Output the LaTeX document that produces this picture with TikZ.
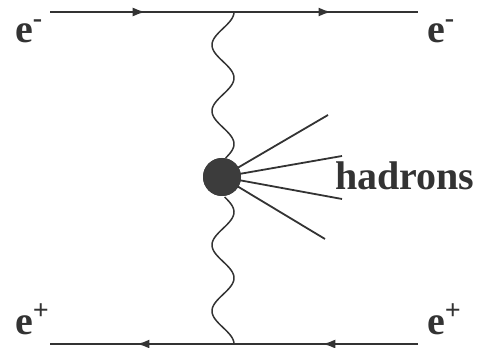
\documentclass[tikz,border=0pt]{standalone}
\usepackage{fontspec}
\setmainfont{Liberation Serif}
\usetikzlibrary{decorations.markings,arrows.meta}
\definecolor{linegray}{HTML}{333333}
\definecolor{blobgray}{HTML}{3C3C3C}
\newcommand{\supr}[1]{\raisebox{6pt}{\textsuperscript{#1}}}
\begin{document}
\begin{tikzpicture}[x=1pt,y=1pt,
  fermion/.style={line width=2.2pt, draw=linegray, postaction=decorate,
    decoration={markings,
      mark=at position 0.26 with {\arrow{Latex[length=13pt,width=9pt]}},
      mark=at position 0.765 with {\arrow{Latex[length=13pt,width=9pt]}}}},
  photon/.style={line width=1.5pt, draw=linegray},
  hadron/.style={line width=1.8pt, draw=linegray},
  blobstyle/.style={circle, fill=blobgray, minimum size=38pt, inner sep=0pt},
  lab/.style={inner sep=0pt, text=linegray, font=\fontsize{40}{48}\selectfont\bfseries}
]
\useasboundingbox (0,0) rectangle (483,348);
% endpoints
\coordinate (tl) at (50,336);
\coordinate (tr) at (418,336);
\coordinate (bl) at (50,4);
\coordinate (br) at (418,4);
\coordinate (vtop) at (234,336);
\coordinate (vbot) at (234,4);
\coordinate (h1) at (328,233);
\coordinate (h2) at (342,192);
\coordinate (h3) at (342,149);
\coordinate (h4) at (325,109);
\node[blobstyle] (blob) at (222,171) {};
% fermion lines
\draw[fermion] (tl) -- (tr);
\draw[fermion] (br) -- (bl);
% photons
\draw[photon] (vtop) -- plot[domain=0:146, samples=120, smooth] ({223+11*cos(5.4545*\x)}, {336-\x});
\draw[photon] plot[domain=147:0, samples=120, smooth] ({223+11*cos(5.4545*\x)}, {4+\x}) -- (vbot);
% hadrons
\draw[hadron] (blob.center) -- (h1);
\draw[hadron] (blob.center) -- (h2);
\draw[hadron] (blob.center) -- (h3);
\draw[hadron] (blob.center) -- (h4);
\node[blobstyle] (blobtop) at (blob.center) {};
% labels
\node[lab, anchor=base west] (l1) at (15,305) {e\supr{-}};
\node[lab, anchor=base west] (l2) at (427,305) {e\supr{-}};
\node[lab, anchor=base west] (l3) at (15,13) {e\supr{+}};
\node[lab, anchor=base west] (l4) at (427,13) {e\supr{+}};
\node[lab, anchor=base west] (had) at (335,158) {hadrons};
\end{tikzpicture}
\end{document}
